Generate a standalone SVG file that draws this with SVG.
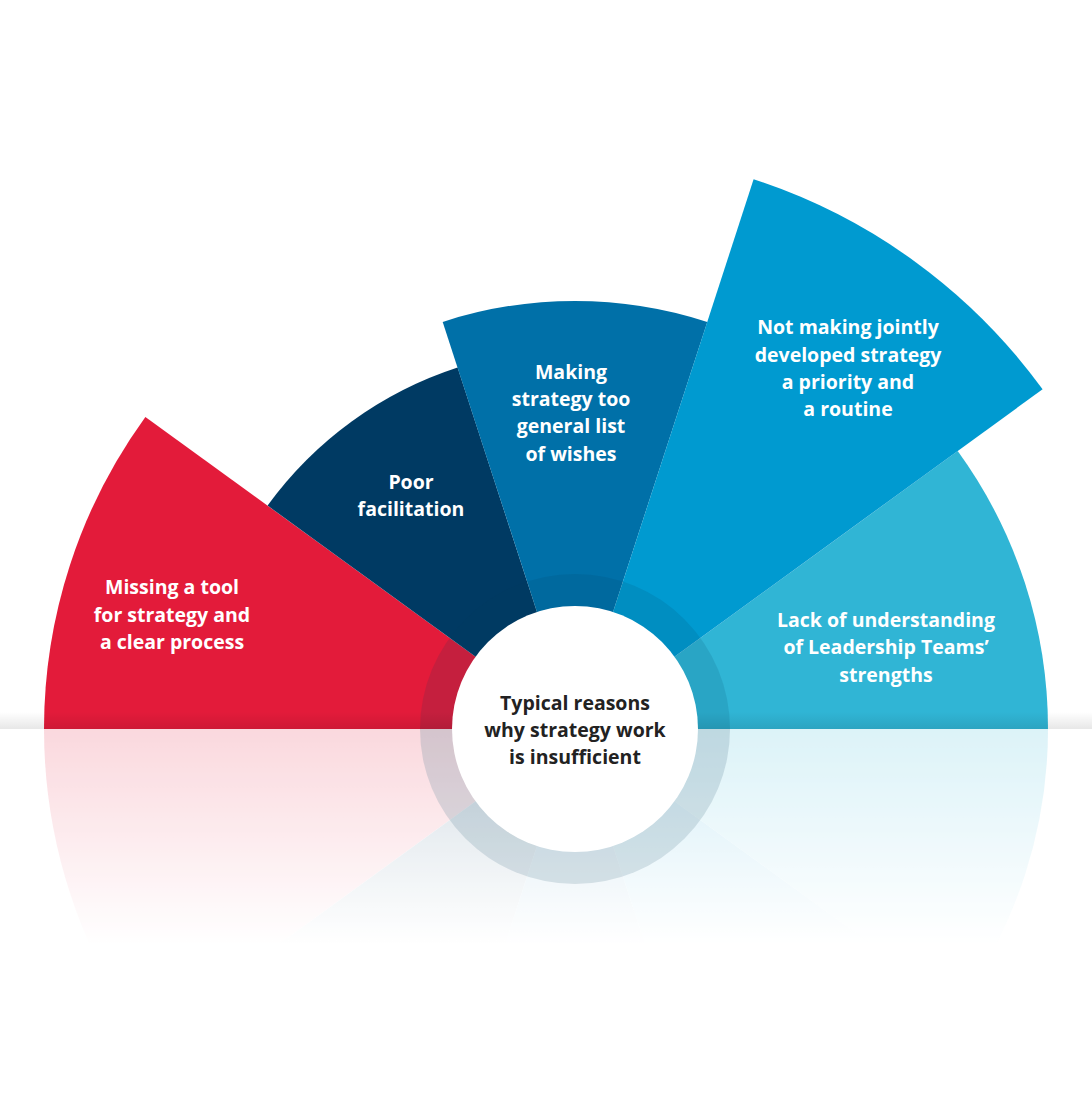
<svg xmlns="http://www.w3.org/2000/svg" width="1092" height="1093" viewBox="0 0 1092 1093">
<style>
.t{font-family:"Open Sans","Liberation Sans",Arial,sans-serif;font-weight:bold;font-size:19.5px;fill:#fff;text-anchor:middle}
.c{font-family:"Open Sans","Liberation Sans",Arial,sans-serif;font-weight:bold;font-size:19.5px;fill:#222;text-anchor:middle}
</style>
<defs>
<linearGradient id="fade" x1="0" y1="729" x2="0" y2="945" gradientUnits="userSpaceOnUse">
<stop offset="0" stop-color="#fff" stop-opacity="0.17"/>
<stop offset="1" stop-color="#fff" stop-opacity="0"/>
</linearGradient>
<mask id="m"><rect x="0" y="729" width="1092" height="364" fill="url(#fade)"/></mask>
<linearGradient id="hz" x1="0" y1="712" x2="0" y2="730" gradientUnits="userSpaceOnUse">
<stop offset="0" stop-color="#000" stop-opacity="0"/>
<stop offset="1" stop-color="#000" stop-opacity="0.1"/>
</linearGradient>
<g id="sectors">
<path d="M575 729 L44 729 A531 531 0 0 1 145.4 416.9 Z" fill="#e31b3a"/>
<path d="M575 729 L267.6 505.6 A380 380 0 0 1 457.6 367.6 Z" fill="#003a63"/>
<path d="M575 729 L442.7 321.9 A428 428 0 0 1 707.3 321.9 Z" fill="#0070a8"/>
<path d="M575 729 L957.7 451 A473 473 0 0 1 1048 729 Z" fill="#30b5d5"/>
<path d="M575 729 L753.6 179.3 A578 578 0 0 1 1042.6 389.3 Z" fill="#009ad0"/>
<circle cx="575" cy="729" r="155" fill="#00405f" fill-opacity="0.13"/>
</g>
</defs>
<rect width="1092" height="1093" fill="#fff"/>
<g id="reflection" mask="url(#m)"><use href="#sectors" transform="translate(0,1458) scale(1,-1)"/></g>
<g id="nodes">
<use href="#sectors"/>
<rect x="0" y="712" width="1092" height="17" fill="url(#hz)"/>
<g id="n1"><text class="t" x="172" y="594">Missing a tool</text><text class="t" x="172" y="622">for strategy and</text><text class="t" x="172" y="649">a clear process</text></g>
<g id="n2"><text class="t" x="411" y="489">Poor</text><text class="t" x="411" y="516">facilitation</text></g>
<g id="n3"><text class="t" x="571" y="379">Making</text><text class="t" x="571" y="406">strategy too</text><text class="t" x="571" y="433">general list</text><text class="t" x="571" y="461">of wishes</text></g>
<g id="n4"><text class="t" x="848" y="334">Not making jointly</text><text class="t" x="848" y="362">developed strategy</text><text class="t" x="848" y="389">a priority and</text><text class="t" x="848" y="416">a routine</text></g>
<g id="n5"><text class="t" x="886" y="627">Lack of understanding</text><text class="t" x="886" y="654">of Leadership Teams’</text><text class="t" x="886" y="682">strengths</text></g>
<g id="center"><circle cx="575" cy="729" r="123" fill="#fff"/><text class="c" x="575" y="710">Typical reasons</text><text class="c" x="575" y="737">why strategy work</text><text class="c" x="575" y="764">is insufficient</text></g>
</g>
<g id="connectors"/>
</svg>
